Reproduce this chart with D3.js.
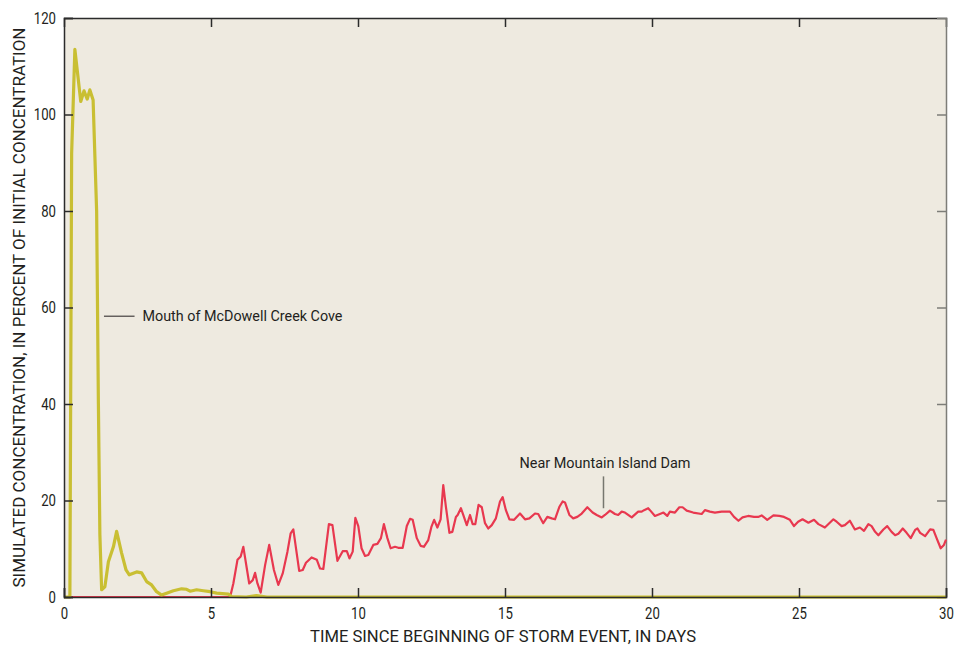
<!DOCTYPE html>
<html>
<head>
<meta charset="utf-8">
<script src="https://cdn.jsdelivr.net/npm/d3@7/dist/d3.min.js"></script>
<style>
  html, body { margin: 0; padding: 0; background: #ffffff; }
  svg { display: block; }
  text { font-family: "Liberation Sans Narrow", "Arial Narrow", "Roboto", "Liberation Sans", sans-serif; fill: #231f20; }
</style>
</head>
<body>
<svg id="chart" width="958" height="648"></svg>
<script>
// Simulated concentration (percent of initial) at the mouth of McDowell Creek Cove
const coveDays = [0, 0.2, 0.26, 0.37, 0.57, 0.68, 0.79, 0.88, 0.99, 1.11, 1.17, 1.22, 1.28, 1.39, 1.51, 1.68, 1.79, 1.96, 2.11, 2.22, 2.47, 2.64, 2.81, 2.98, 3.15, 3.32, 3.49, 3.72, 4.0, 4.17, 4.29, 4.51, 4.74, 4.97, 5.19, 5.59, 5.7, 6.2, 6.55, 6.9, 8, 12, 20, 30];
const coveValues = [0, 0, 92, 113.5, 102.7, 104.9, 103.2, 105.1, 103, 80, 40, 13, 1.5, 2.1, 7.3, 10.4, 13.6, 9.1, 5.6, 4.6, 5.2, 5.0, 3.2, 2.5, 1.1, 0.4, 0.8, 1.3, 1.7, 1.6, 1.2, 1.5, 1.3, 1.1, 0.8, 0.6, 0.1, 0, 0.3, 0, 0, 0, 0, 0];

// Simulated concentration near Mountain Island Dam
const damDays = [0, 5.65, 5.76, 5.90, 6.01, 6.10, 6.30, 6.42, 6.50, 6.58, 6.69, 6.84, 6.98, 7.14, 7.29, 7.44, 7.60, 7.71, 7.80, 8.0, 8.12, 8.23, 8.42, 8.60, 8.71, 8.82, 9.01, 9.13, 9.30, 9.48, 9.62, 9.71, 9.82, 9.91, 10.01, 10.12, 10.24, 10.35, 10.52, 10.66, 10.78, 10.88, 11.0, 11.11, 11.26, 11.37, 11.52, 11.66, 11.77, 11.86, 12.0, 12.13, 12.24, 12.39, 12.50, 12.59, 12.70, 12.81, 12.90, 12.99, 13.11, 13.21, 13.33, 13.39, 13.50, 13.58, 13.70, 13.81, 13.90, 13.99, 14.10, 14.21, 14.32, 14.43, 14.55, 14.69, 14.83, 14.92, 15.03, 15.15, 15.31, 15.51, 15.68, 15.83, 16.02, 16.13, 16.30, 16.44, 16.59, 16.70, 16.85, 16.96, 17.04, 17.19, 17.32, 17.46, 17.61, 17.80, 17.98, 18.12, 18.29, 18.40, 18.57, 18.74, 18.85, 18.97, 19.08, 19.31, 19.53, 19.65, 19.73, 19.87, 19.93, 20.10, 20.27, 20.39, 20.52, 20.61, 20.78, 20.93, 21.04, 21.18, 21.40, 21.69, 21.80, 21.97, 22.14, 22.37, 22.65, 22.79, 22.94, 23.08, 23.27, 23.47, 23.61, 23.73, 23.92, 24.13, 24.33, 24.49, 24.69, 24.83, 24.97, 25.12, 25.32, 25.51, 25.66, 25.88, 26.17, 26.28, 26.45, 26.56, 26.73, 26.90, 27.07, 27.21, 27.36, 27.47, 27.59, 27.70, 27.87, 28.0, 28.15, 28.27, 28.38, 28.53, 28.66, 28.80, 28.95, 29.03, 29.12, 29.29, 29.46, 29.57, 29.68, 29.82, 29.93, 30];
const damValues = [0, 0, 2.8, 7.7, 8.4, 10.4, 2.8, 3.5, 5.0, 2.8, 0.9, 6.6, 10.8, 5.6, 2.5, 4.9, 9.4, 13.2, 14.0, 5.4, 5.6, 7.1, 8.2, 7.7, 5.9, 5.8, 15.1, 14.9, 7.5, 9.5, 9.5, 8.0, 9.4, 16.4, 14.7, 10.1, 8.5, 8.7, 10.8, 11.0, 12.2, 15.1, 12.2, 10.1, 10.4, 10.2, 10.2, 14.7, 16.2, 16.0, 12.2, 10.6, 10.4, 11.8, 14.6, 16.0, 14.4, 16.1, 23.2, 18.7, 13.3, 13.5, 16.6, 17.0, 18.4, 17.0, 14.9, 17.0, 15.1, 15.1, 19.1, 18.6, 15.3, 14.2, 14.9, 16.3, 19.8, 20.7, 18.0, 16.1, 16.0, 17.3, 16.1, 16.3, 17.3, 17.2, 15.3, 16.6, 16.3, 16.1, 18.7, 19.8, 19.6, 17.0, 16.3, 16.6, 17.3, 18.6, 17.5, 17.0, 16.5, 17.0, 17.9, 17.2, 17.0, 17.7, 17.5, 16.5, 17.7, 17.7, 18.0, 18.4, 18.0, 16.8, 17.2, 17.5, 16.8, 17.7, 17.5, 18.6, 18.6, 17.9, 17.5, 17.2, 18.0, 17.7, 17.5, 17.7, 17.7, 16.6, 15.8, 16.5, 16.8, 16.6, 16.6, 16.9, 16.0, 16.9, 16.8, 16.6, 16.0, 14.7, 15.6, 16.1, 15.4, 16.0, 15.1, 14.4, 16.1, 15.6, 14.7, 14.9, 15.8, 14.0, 14.4, 13.7, 15.1, 14.7, 13.5, 12.8, 14.0, 14.7, 13.5, 12.8, 13.1, 14.2, 13.3, 12.2, 13.9, 14.2, 13.3, 12.6, 14.0, 13.9, 12.2, 10.1, 10.8, 11.9];

const xTicks = [0, 5, 10, 15, 20, 25, 30];
const yTicks = [0, 20, 40, 60, 80, 100, 120];

const xTitle = "TIME SINCE BEGINNING OF STORM EVENT, IN DAYS";
const yTitle = "SIMULATED CONCENTRATION, IN PERCENT OF INITIAL CONCENTRATION";
const coveLabel = "Mouth of McDowell Creek Cove";
const damLabel = "Near Mountain Island Dam";

const margin = { left: 64, right: 12, top: 18, bottom: 51 };
const width = 958, height = 648;
const svg = d3.select("#chart");

const x = d3.scaleLinear().domain([0, 30]).range([margin.left, width - margin.right]);
const y = d3.scaleLinear().domain([0, 120]).range([height - margin.bottom, margin.top]);

// plot background
svg.append("rect")
  .attr("x", x(0)).attr("y", y(120))
  .attr("width", x(30) - x(0)).attr("height", y(0) - y(120))
  .attr("fill", "#eeeae0");

// inward ticks on all four sides
const tickLen = 9;
const bottomAxis = d3.axisBottom(x).tickValues(xTicks).tickSize(-tickLen).tickPadding(10).tickFormat(d3.format("d"));
const topAxis = d3.axisTop(x).tickValues(xTicks.slice(1, -1)).tickSize(-tickLen).tickFormat("");
const leftAxis = d3.axisLeft(y).tickValues(yTicks).tickSize(-tickLen).tickPadding(8).tickFormat(d3.format("d"));
const rightAxis = d3.axisRight(y).tickValues(yTicks.slice(1, -1)).tickSize(-tickLen).tickFormat("");

// condensed numerals: narrow each tick label to a fixed advance per digit
function styleAxis(g, color) {
  g.select(".domain").attr("stroke", color).attr("stroke-width", 1.5);
  g.selectAll(".tick line").attr("stroke", color).attr("stroke-width", 1.5);
  g.selectAll(".tick text").attr("font-size", 16.5).attr("fill", "#231f20")
    .style("font-family", '"Liberation Sans Narrow", "Arial Narrow", Roboto, sans-serif')
    .attr("textLength", function () { return this.textContent.length * 7.4; })
    .attr("lengthAdjust", "spacingAndGlyphs");
}

const gTop = svg.append("g").attr("transform", `translate(0,${y(120)})`).call(topAxis);
styleAxis(gTop, "#2b2b2b");
const gRight = svg.append("g").attr("transform", `translate(${x(30)},0)`).call(rightAxis);
styleAxis(gRight, "#7d7d78");

// data lines
const line = d3.line().x(d => x(d[0])).y(d => y(d[1]));
const damPts = damDays.map((d, i) => [d, damValues[i]]);
const covePts = coveDays.map((d, i) => [d, coveValues[i]]);

svg.append("path").datum(damPts)
  .attr("d", line).attr("fill", "none")
  .attr("stroke", "#e8384f").attr("stroke-width", 2.2)
  .attr("stroke-linejoin", "round");

svg.append("path").datum(covePts)
  .attr("d", line).attr("fill", "none")
  .attr("stroke", "#c9bf33").attr("stroke-width", 3.2)
  .attr("stroke-linejoin", "round");

const gBottom = svg.append("g").attr("transform", `translate(0,${y(0)})`).call(bottomAxis);
styleAxis(gBottom, "#2b2b2b");
const gLeft = svg.append("g").attr("transform", `translate(${x(0)},0)`).call(leftAxis);
styleAxis(gLeft, "#2b2b2b");

// axis titles
svg.append("text")
  .attr("x", (x(0) + x(30)) / 2 - 2).attr("y", 642)
  .attr("text-anchor", "middle").attr("font-size", 16.5)
  .attr("textLength", 386).attr("lengthAdjust", "spacingAndGlyphs")
  .text(xTitle);

svg.append("text")
  .attr("transform", `translate(25,${(y(0) + y(120)) / 2}) rotate(-90)`)
  .attr("text-anchor", "middle").attr("font-size", 16.5)
  .attr("textLength", 560).attr("lengthAdjust", "spacingAndGlyphs")
  .text(yTitle);

// series annotations
svg.append("line")
  .attr("x1", x(1.36)).attr("x2", x(2.4))
  .attr("y1", y(58.2)).attr("y2", y(58.2))
  .attr("stroke", "#231f20").attr("stroke-width", 1);
svg.append("text")
  .attr("x", x(2.67)).attr("y", y(58.2) + 5)
  .attr("font-size", 15)
  .attr("textLength", 200).attr("lengthAdjust", "spacingAndGlyphs")
  .text(coveLabel);

svg.append("line")
  .attr("x1", x(18.35)).attr("x2", x(18.35))
  .attr("y1", y(25)).attr("y2", y(18.4))
  .attr("stroke", "#77776f").attr("stroke-width", 1.5);
svg.append("text")
  .attr("x", x(18.4)).attr("y", y(26.8))
  .attr("text-anchor", "middle").attr("font-size", 15)
  .attr("textLength", 171).attr("lengthAdjust", "spacingAndGlyphs")
  .text(damLabel);
</script>
</body>
</html>
